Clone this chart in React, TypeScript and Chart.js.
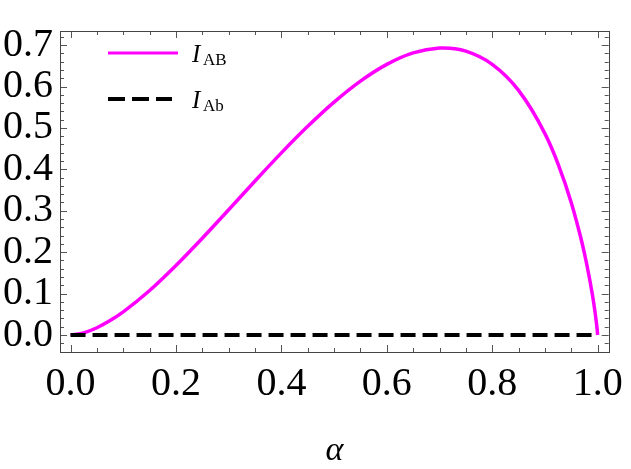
import React, { useEffect, useRef } from 'react';
import { Chart, registerables } from 'chart.js';

Chart.register(...registerables);

// α values and mutual information I_AB
const alpha = [0, 0.025, 0.05, 0.075, 0.1, 0.15, 0.2, 0.25, 0.3, 0.35, 0.4, 0.45, 0.5, 0.55, 0.6, 0.65, 0.7, 0.707, 0.75, 0.8, 0.85, 0.9, 0.925, 0.95, 0.97, 0.98, 0.99, 0.995, 0.999, 1.0];
const iAB = [0, 0.0052, 0.0175, 0.0348, 0.056, 0.1076, 0.168, 0.2338, 0.3025, 0.3719, 0.4397, 0.5038, 0.5623, 0.613, 0.6534, 0.6811, 0.6929, 0.6931, 0.6853, 0.6534, 0.5906, 0.4862, 0.4128, 0.3196, 0.2245, 0.1667, 0.0977, 0.0559, 0.0144, 0];

// I_Ab is zero everywhere
const alphaAb = [0, 1];
const iAb = [0, 0];

// axis ticks
const xMajor = [0, 0.2, 0.4, 0.6, 0.8, 1.0];
const xMinor = [0.05, 0.1, 0.15, 0.25, 0.3, 0.35, 0.45, 0.5, 0.55, 0.65, 0.7, 0.75, 0.85, 0.9, 0.95];
const yMajor = [0, 0.1, 0.2, 0.3, 0.4, 0.5, 0.6, 0.7];
const yMinor = [-0.02, 0.02, 0.04, 0.06, 0.08, 0.12, 0.14, 0.16, 0.18, 0.22, 0.24, 0.26, 0.28, 0.32, 0.34, 0.36, 0.38, 0.42, 0.44, 0.46, 0.48, 0.52, 0.54, 0.56, 0.58, 0.62, 0.64, 0.66, 0.68, 0.72];

const SERIF = "'Liberation Serif', 'Times New Roman', serif";

const frameTicks = {
  id: 'frameTicks',
  afterDatasetsDraw(chart: any) {
    const { ctx, chartArea: a, scales } = chart;
    const xs = scales.x, ys = scales.y;
    ctx.save();
    ctx.strokeStyle = '#555';
    ctx.lineWidth = 1;
    const vline = (x: number, y0: number, y1: number) => {
      ctx.beginPath(); ctx.moveTo(x, y0); ctx.lineTo(x, y1); ctx.stroke();
    };
    const hline = (y: number, x0: number, x1: number) => {
      ctx.beginPath(); ctx.moveTo(x0, y); ctx.lineTo(x1, y); ctx.stroke();
    };
    const big = 7, small = 4;
    xMajor.forEach(v => { const x = Math.round(xs.getPixelForValue(v)) + 0.5; vline(x, a.bottom, a.bottom - big); vline(x, a.top, a.top + big); });
    xMinor.forEach(v => { const x = Math.round(xs.getPixelForValue(v)) + 0.5; vline(x, a.bottom, a.bottom - small); vline(x, a.top, a.top + small); });
    yMajor.forEach(v => { const y = Math.round(ys.getPixelForValue(v)) + 0.5; hline(y, a.left, a.left + big); hline(y, a.right, a.right - big); });
    yMinor.forEach(v => { const y = Math.round(ys.getPixelForValue(v)) + 0.5; hline(y, a.left, a.left + small); hline(y, a.right, a.right - small); });
    ctx.strokeStyle = '#444';
    ctx.strokeRect(Math.round(a.left) + 0.5, Math.round(a.top) + 0.5, Math.round(a.right - a.left), Math.round(a.bottom - a.top));
    ctx.restore();
  },
  afterDraw(chart: any) {
    const { ctx } = chart;
    ctx.save();
    const x0 = 108, x1 = 178, tx = 192;
    const rows = [
      { y: 53, color: '#ff00ff', dash: [] as number[], sub: 'AB' },
      { y: 99, color: '#000000', dash: [17, 7], sub: 'Ab' },
    ];
    rows.forEach(r => {
      ctx.strokeStyle = r.color;
      ctx.lineWidth = r.dash.length ? 4 : 3;
      ctx.setLineDash(r.dash);
      ctx.beginPath(); ctx.moveTo(x0, r.y); ctx.lineTo(r.dash.length ? 172 : x1, r.y); ctx.stroke();
      ctx.setLineDash([]);
      ctx.fillStyle = '#000';
      ctx.textBaseline = 'alphabetic';
      ctx.textAlign = 'left';
      ctx.font = `italic 25px ${SERIF}`;
      ctx.fillText('I', tx, r.y + 9);
      ctx.font = `17px ${SERIF}`;
      ctx.fillText(r.sub, tx + 11, r.y + 11.5);
    });
    ctx.restore();
  },
};

export default function App() {
  const ref = useRef<HTMLCanvasElement>(null);
  useEffect(() => {
    document.body.style.margin = '0';
    const chart = new Chart(ref.current as HTMLCanvasElement, {
      type: 'line',
      data: {
        datasets: [
          {
            label: 'I_Ab',
            data: alphaAb.map((x, i) => ({ x, y: iAb[i] })),
            borderColor: '#000',
            borderWidth: 4,
            borderDash: [15, 7],
            pointRadius: 0,
            fill: false,
          },
          {
            label: 'I_AB',
            data: alpha.map((x, i) => ({ x, y: iAB[i] })),
            borderColor: '#ff00ff',
            borderWidth: 3.5,
            pointRadius: 0,
            cubicInterpolationMode: 'monotone',
            fill: false,
          },
        ],
      },
      options: {
        animation: false,
        responsive: true,
        maintainAspectRatio: false,
        layout: { padding: { left: 0, top: 10, right: 18, bottom: 0 } },
        plugins: { legend: { display: false }, tooltip: { enabled: false } },
        scales: {
          x: {
            type: 'linear',
            min: -0.02,
            max: 1.021,
            afterBuildTicks: (s: any) => { s.ticks = xMajor.map(v => ({ value: v })); },
            afterFit: (s: any) => { s.height = 117; },
            grid: { display: false, drawTicks: false },
            border: { display: false },
            ticks: {
              padding: 8,
              color: '#000',
              maxRotation: 0,
              autoSkip: false,
              font: { family: SERIF, size: 40 },
              callback: (v: any) => Number(v).toFixed(1),
            },
            title: {
              display: true,
              text: 'α',
              color: '#000',
              font: { family: SERIF, size: 34, style: 'italic' },
              padding: { top: 0, bottom: -2 },
            },
          },
          y: {
            type: 'linear',
            min: -0.041,
            max: 0.734,
            afterBuildTicks: (s: any) => { s.ticks = yMajor.map(v => ({ value: v })); },
            afterFit: (s: any) => { s.width = 60; },
            grid: { display: false, drawTicks: false },
            border: { display: false },
            ticks: {
              padding: 7,
              color: '#000',
              autoSkip: false,
              font: { family: SERIF, size: 40 },
              callback: (v: any) => Number(v).toFixed(1),
            },
          },
        },
      },
      plugins: [frameTicks],
    });
    return () => chart.destroy();
  }, []);
  return (
    <div style={{ width: 631, height: 469, position: 'relative' }}>
      <canvas ref={ref} />
    </div>
  );
}
